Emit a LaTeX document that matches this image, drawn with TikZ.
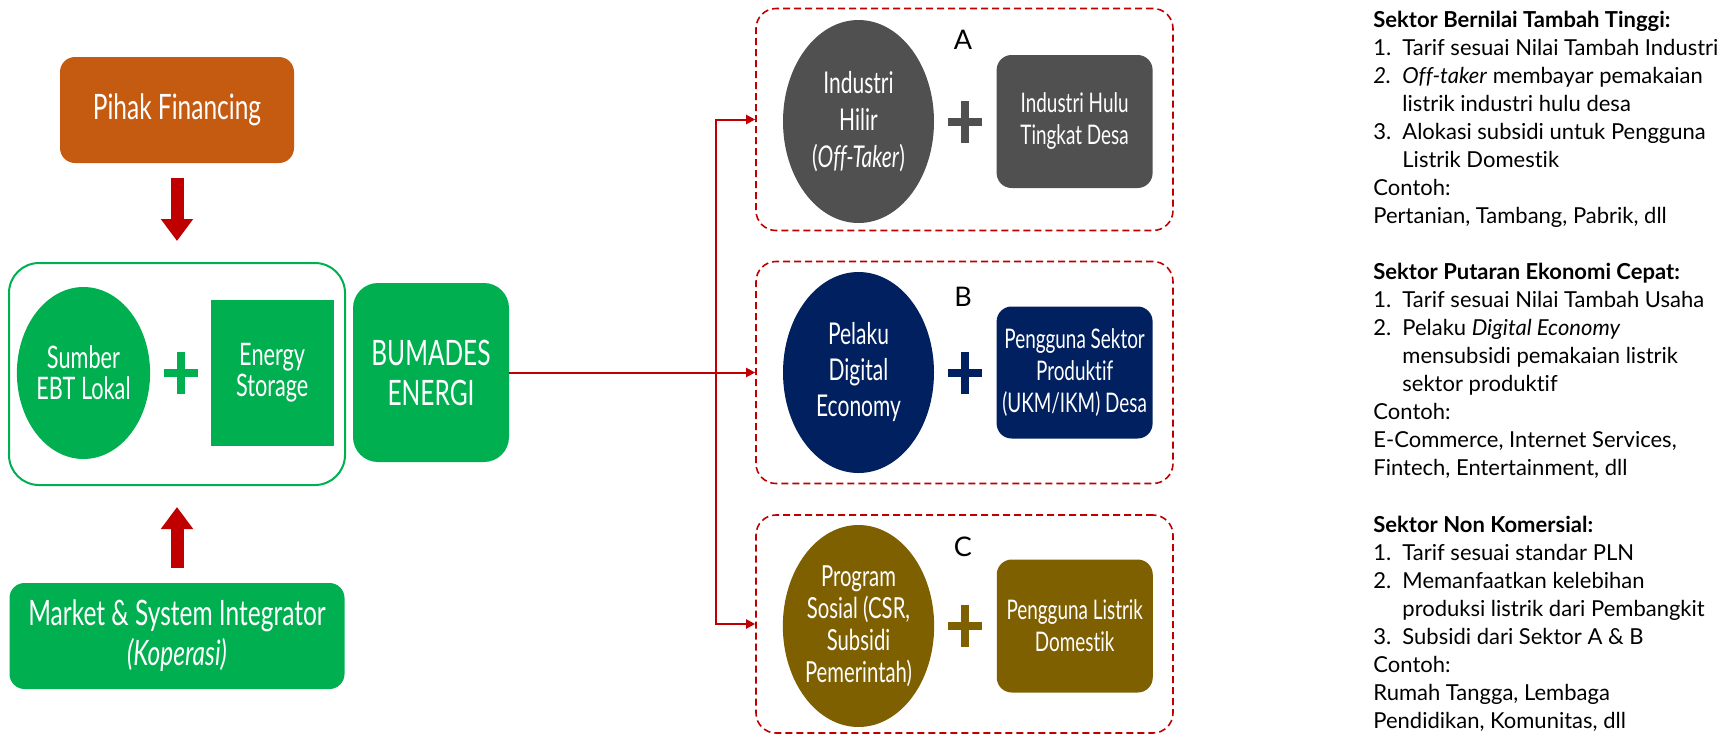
\documentclass[tikz,border=0pt]{standalone}
\usepackage{fontspec}
\setmainfont[Ligatures={NoCommon}]{Lato}
\newfontfamily\narrowfont[FakeStretch=0.7, Ligatures={NoCommon}]{Lato}
\usetikzlibrary{arrows.meta,positioning,shapes.geometric}

\definecolor{finorange}{HTML}{C55A11}
\definecolor{ebtgreen}{HTML}{00B050}
\definecolor{arrowred}{HTML}{C00000}
\definecolor{sectgray}{HTML}{505050}
\definecolor{sectnavy}{HTML}{002060}
\definecolor{sectolive}{HTML}{7F6000}

\newcommand{\boxfont}[2]{\narrowfont\fontsize{#1}{#2}\selectfont}

\tikzset{
  fillbox/.style={rectangle, rounded corners=7.5pt, fill=#1, text=white, align=center, inner sep=0pt},
  fillcircle/.style={ellipse, fill=#1, text=white, align=center, inner sep=0pt},
  plussign/.style={rectangle, inner sep=0pt, minimum width=17pt, minimum height=21pt,
    path picture={
      \fill[#1] ([xshift=-2pt]path picture bounding box.north) rectangle ([xshift=2pt]path picture bounding box.south);
      \fill[#1] ([yshift=-2pt]path picture bounding box.west) rectangle ([yshift=2pt]path picture bounding box.east);}},
  sektorbox/.style={rectangle, rounded corners=10pt, draw=arrowred, line width=0.8pt,
    dash pattern=on 3.5pt off 2pt, minimum width=208.5pt, minimum height=111pt},
  fatarrow/.style={draw=arrowred, line width=6.5pt, -{Triangle[width=15.5pt, length=11pt]},
    shorten <=7.5pt, shorten >=10.5pt},
  thinarrow/.style={draw=arrowred, line width=1pt, -{Triangle[width=4.5pt, length=4.5pt]}},
  sektortext/.style={anchor=base west, inner sep=0pt, font=\fontsize{11}{14}\selectfont},
  sektorlabel/.style={inner sep=0pt, font=\fontsize{13.5}{16}\selectfont}
}

\begin{document}
\begin{tikzpicture}[x=0.5pt, y=-0.5pt]
    \useasboundingbox (0,0) rectangle (1736,735);

    % Pihak Financing
    \node[fillbox=finorange, minimum width=117pt, minimum height=53pt, font=\boxfont{17.5}{20}] (fin) at (177,110) {Pihak Financing};

    % Sumber EBT + Energy Storage
    \node[rectangle, rounded corners=15pt, draw=ebtgreen, line width=1pt, minimum width=168pt, minimum height=111pt] (src) at (177,374) {};
    \node[fillcircle=ebtgreen, minimum width=64.5pt, minimum height=86pt, font=\boxfont{15.5}{15.5}] (ebt) at (83.5,373) {Sumber\\EBT Lokal};
    \node[plussign=ebtgreen, right=6.5pt of ebt] (plusebt) {};
    \node[rectangle, fill=ebtgreen, text=white, align=center, inner sep=0pt, minimum width=61.5pt, minimum height=73pt, right=6pt of plusebt, font=\boxfont{15.5}{15.5}] (ess) {Energy\\Storage};

    % BUMADES
    \node[fillbox=ebtgreen, rounded corners=12.5pt, minimum width=78pt, minimum height=89.5pt, font=\boxfont{17.5}{20}] (bum) at (431,372.5) {BUMADES\\ENERGI};

    % Market & System Integrator
    \node[fillbox=ebtgreen, minimum width=167.5pt, minimum height=53pt, font=\boxfont{17.5}{20}] (mkt) at (177,636) {Market \& System Integrator\\\textit{(Koperasi)}};

    % Sektor A
    \node[sektorbox] (grpA) at (964.5,119.5) {};
    \node[fillcircle=sectgray, minimum width=75.5pt, minimum height=101.5pt, font=\boxfont{15}{18.5}] (hilir) at (858.5,121.5) {Industri\\Hilir\\(\textit{Off-Taker})};
    \node[plussign=sectgray, right=6.5pt of hilir] (plusA) {};
    \node[fillbox=sectgray, minimum width=78pt, minimum height=66.5pt, right=7pt of plusA, font=\boxfont{13.5}{16}] (hulu) {Industri Hulu\\Tingkat Desa};
    \node[sektorlabel] (labA) at (963,40) {A};

    % Sektor B
    \node[sektorbox] (grpB) at (964.5,372.5) {};
    \node[fillcircle=sectnavy, minimum width=75.5pt, minimum height=100.5pt, font=\boxfont{15}{18}] (digital) at (858.5,372.5) {Pelaku\\Digital\\Economy};
    \node[plussign=sectnavy, right=6.5pt of digital] (plusB) {};
    \node[fillbox=sectnavy, minimum width=78pt, minimum height=66pt, right=7pt of plusB, font=\boxfont{13.5}{16}] (ukm) {Pengguna Sektor\\Produktif\\(UKM/IKM) Desa};
    \node[sektorlabel] (labB) at (963,297) {B};

    % Sektor C
    \node[sektorbox, minimum height=109pt] (grpC) at (964.5,624) {};
    \node[fillcircle=sectolive, minimum width=75.5pt, minimum height=101pt, font=\boxfont{14.5}{16}] (sosial) at (858.5,626) {Program\\Sosial (CSR,\\Subsidi\\Pemerintah)};
    \node[plussign=sectolive, right=6.5pt of sosial] (plusC) {};
    \node[fillbox=sectolive, minimum width=78pt, minimum height=66.5pt, right=7pt of plusC, font=\boxfont{13.5}{16}] (domestik) {Pengguna Listrik\\Domestik};
    \node[sektorlabel] (labC) at (963,547) {C};

    % Keterangan sektor
    \node[sektortext] (txtA) at (1373,27.6) {\begin{tabular}[t]{@{}p{14.5pt}@{}l@{}}
        \multicolumn{2}{@{}l@{}}{\bfseries Sektor Bernilai Tambah Tinggi:}\\
        1. & Tarif sesuai Nilai Tambah Industri\\
        \textit{2.} & \textit{Off-taker} membayar pemakaian\\
           & listrik industri hulu desa\\
        3. & Alokasi subsidi untuk Pengguna\\
           & Listrik Domestik\\
        \multicolumn{2}{@{}l@{}}{Contoh:}\\
        \multicolumn{2}{@{}l@{}}{Pertanian, Tambang, Pabrik, dll}
    \end{tabular}};
    \node[sektortext] (txtB) at (1373,279.6) {\begin{tabular}[t]{@{}p{14.5pt}@{}l@{}}
        \multicolumn{2}{@{}l@{}}{\bfseries Sektor Putaran Ekonomi Cepat:}\\
        1. & Tarif sesuai Nilai Tambah Usaha\\
        2. & Pelaku \textit{Digital Economy}\\
           & mensubsidi pemakaian listrik\\
           & sektor produktif\\
        \multicolumn{2}{@{}l@{}}{Contoh:}\\
        \multicolumn{2}{@{}l@{}}{E-Commerce, Internet Services,}\\
        \multicolumn{2}{@{}l@{}}{Fintech, Entertainment, dll}
    \end{tabular}};
    \node[sektortext] (txtC) at (1373,532.6) {\begin{tabular}[t]{@{}p{14.5pt}@{}l@{}}
        \multicolumn{2}{@{}l@{}}{\bfseries Sektor Non Komersial:}\\
        1. & Tarif sesuai standar PLN\\
        2. & Memanfaatkan kelebihan\\
           & produksi listrik dari Pembangkit\\
        3. & Subsidi dari Sektor A \& B\\
        \multicolumn{2}{@{}l@{}}{Contoh:}\\
        \multicolumn{2}{@{}l@{}}{Rumah Tangga, Lembaga}\\
        \multicolumn{2}{@{}l@{}}{Pendidikan, Komunitas, dll}
    \end{tabular}};

    % panah
    \draw[fatarrow] (fin.south) -- (src.north);
    \draw[fatarrow] (mkt.north) -- (src.south);
    \coordinate (split) at (716,372.5);
    \draw[thinarrow] (bum.east) -- (grpB.west);
    \draw[thinarrow] (split) |- (grpA.west);
    \draw[thinarrow] (split) |- (grpC.west);

\end{tikzpicture}
\end{document}
